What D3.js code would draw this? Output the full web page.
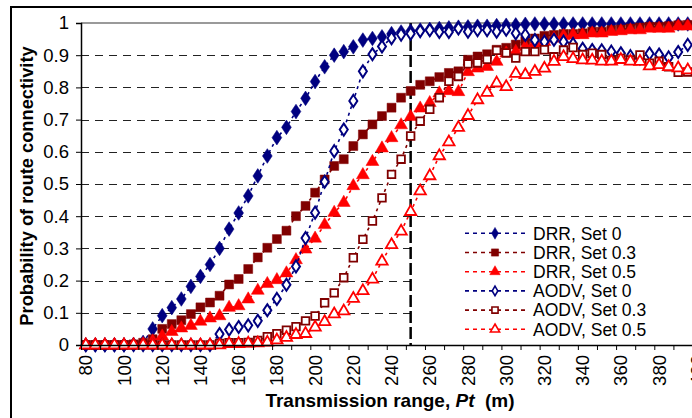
<!DOCTYPE html>
<html><head><meta charset="utf-8">
<script src="https://cdn.jsdelivr.net/npm/d3@7"></script>
<style>
html,body{margin:0;padding:0;background:#fff;}
svg{display:block;font-family:"Liberation Sans",Arial,sans-serif;}
</style></head>
<body><svg id="c" width="692" height="418"></svg>
<script>
// ---- data ----
const ranges = [80,85,90,95,100,105,110,115,120,125,130,135,140,145,150,155,160,165,170,175,180,185,190,195,200,205,210,215,220,225,230,235,240,245,250,255,260,265,270,275,280,285,290,295,300,305,310,315,320,325,330,335,340,345,350,355,360,365,370,375,380,385,390,395,400];
const drrSet0 = [0,0,0,0,0,0.002,0.008,0.05,0.091,0.116,0.143,0.182,0.213,0.25,0.30,0.36,0.41,0.463,0.525,0.587,0.644,0.676,0.725,0.766,0.818,0.864,0.90,0.911,0.926,0.947,0.952,0.957,0.967,0.972,0.975,0.978,0.98,0.983,0.985,0.987,0.988,0.99,0.99,0.992,0.993,0.994,0.996,0.997,0.997,0.997,0.997,0.997,0.997,0.997,0.997,0.997,0.997,0.997,0.997,0.997,0.997,0.997,0.997,0.997,0.997];
const drrSet03 = [0,0,0,0,0,0.002,0.007,0.018,0.05,0.065,0.077,0.096,0.117,0.132,0.153,0.188,0.205,0.236,0.272,0.302,0.329,0.355,0.40,0.432,0.473,0.514,0.556,0.577,0.618,0.654,0.685,0.711,0.737,0.768,0.789,0.808,0.819,0.832,0.845,0.85,0.886,0.896,0.903,0.917,0.923,0.933,0.944,0.952,0.96,0.963,0.966,0.966,0.968,0.973,0.973,0.978,0.98,0.983,0.986,0.988,0.988,0.99,0.993,0.994,0.995];
const drrSet05 = [0,0,0,0,0,0,0.003,0.012,0.027,0.041,0.052,0.06,0.073,0.083,0.09,0.116,0.121,0.142,0.169,0.19,0.202,0.223,0.264,0.297,0.331,0.373,0.411,0.442,0.494,0.528,0.569,0.611,0.643,0.683,0.709,0.735,0.752,0.782,0.789,0.786,0.848,0.859,0.864,0.88,0.906,0.911,0.926,0.937,0.942,0.952,0.96,0.963,0.963,0.968,0.968,0.973,0.975,0.978,0.978,0.983,0.983,0.983,0.99,0.99,0.99];
const aodvSet0 = [0,0,0,0,0,0,0,0,0,0,0,0,0,0,0.034,0.048,0.056,0.061,0.075,0.108,0.143,0.187,0.244,0.332,0.411,0.507,0.602,0.669,0.758,0.85,0.903,0.927,0.953,0.964,0.967,0.975,0.978,0.972,0.972,0.983,0.973,0.978,0.978,0.973,0.979,0.968,0.963,0.947,0.942,0.948,0.942,0.935,0.92,0.916,0.915,0.911,0.906,0.897,0.89,0.905,0.902,0.893,0.91,0.932,0.95];
const aodvSet03 = [0,0,0,0,0,0,0,0,0,0,0,0,0,0,0.005,0.007,0.007,0.008,0.014,0.026,0.035,0.046,0.057,0.075,0.09,0.131,0.162,0.209,0.271,0.328,0.385,0.457,0.53,0.577,0.649,0.695,0.732,0.768,0.819,0.834,0.873,0.876,0.887,0.915,0.907,0.891,0.911,0.911,0.917,0.895,0.916,0.924,0.902,0.906,0.902,0.884,0.89,0.885,0.901,0.875,0.881,0.864,0.847,0.848,0.85];
const aodvSet05 = [0,0,0,0,0,0,0,0,0,0,0,0,0,0,0,0.004,0.004,0.005,0.006,0.008,0.015,0.023,0.032,0.035,0.055,0.072,0.096,0.105,0.144,0.168,0.204,0.26,0.311,0.353,0.414,0.478,0.525,0.587,0.63,0.675,0.712,0.761,0.784,0.813,0.802,0.843,0.839,0.849,0.859,0.88,0.895,0.889,0.885,0.884,0.881,0.881,0.886,0.881,0.88,0.866,0.87,0.864,0.86,0.854,0.855];
const seriesNames = ["DRR, Set 0","DRR, Set 0.3","DRR, Set 0.5","AODV, Set 0","AODV, Set 0.3","AODV, Set 0.5"];
const xTickLabels = [80,100,120,140,160,180,200,220,240,260,280,300,320,340,360,380,400];
const yTickLabels = [0,0.1,0.2,0.3,0.4,0.5,0.6,0.7,0.8,0.9,1];
const markerLine = 250;

// ---- styles ----
const navy="#000080", maroon="#800000", red="#ff0000";
const series = [
  {name:seriesNames[0], values:drrSet0,  color:navy,   shape:"diamond",  fill:true},
  {name:seriesNames[1], values:drrSet03, color:maroon, shape:"square",   fill:true},
  {name:seriesNames[2], values:drrSet05, color:red,    shape:"triangle", fill:true},
  {name:seriesNames[3], values:aodvSet0, color:navy,   shape:"diamond",  fill:false},
  {name:seriesNames[4], values:aodvSet03,color:maroon, shape:"square",   fill:false},
  {name:seriesNames[5], values:aodvSet05,color:red,    shape:"triangle", fill:false}
];

const svg = d3.select("#c");
const L=81, T=23, B=345;
const x = d3.scaleLinear().domain([77.5,402.5]).range([L, L+325*1.911]);
const y = d3.scaleLinear().domain([0,1]).range([B,T]);

// outer chart border
svg.append("path").attr("d",`M11,420 L11,7 L700,7`).attr("fill","none").attr("stroke","#000").attr("stroke-width",2);

// gridlines
svg.append("g").selectAll("line").data(yTickLabels.filter(d=>d>0&&d<1)).join("line")
  .attr("x1",L).attr("x2",700).attr("y1",d=>Math.round(y(d))+0.5).attr("y2",d=>Math.round(y(d))+0.5)
  .attr("stroke","#222").attr("stroke-width",1).attr("stroke-dasharray","8,6");
// top border of plot
svg.append("line").attr("x1",L).attr("x2",700).attr("y1",T).attr("y2",T).attr("stroke","#9a9a9a").attr("stroke-width",2);

// legend background
svg.append("rect").attr("x",413).attr("y",223).attr("width",290).attr("height",120).attr("fill","#fff");

// vertical reference line
svg.append("line").attr("x1",x(markerLine)).attr("x2",x(markerLine)).attr("y1",T).attr("y2",B)
  .attr("stroke","#000").attr("stroke-width",2.5).attr("stroke-dasharray","12,4");

// series
const shapeOf = {diamond:d3.symbolDiamond, square:d3.symbolSquare, triangle:d3.symbolTriangle};
const sizeOf = {true:{diamond:62,square:80,triangle:72}, false:{diamond:42,square:58,triangle:56}};
const line = d3.line().x((d,i)=>x(ranges[i])).y(d=>y(d));
series.forEach(s=>{
  const g = svg.append("g");
  g.append("path").datum(s.values).attr("d",line).attr("fill","none")
    .attr("stroke",s.color).attr("stroke-width",1.6).attr("stroke-dasharray","3,4");
  const sym = d3.symbol().type(shapeOf[s.shape]).size(sizeOf[s.fill][s.shape]);
  g.selectAll("path.m").data(s.values).join("path").attr("class","m")
    .attr("transform",(d,i)=>`translate(${x(ranges[i])},${y(d)})${s.shape==="diamond"?" scale(1.15,1)":""}`)
    .attr("d",sym())
    .attr("fill",s.fill?s.color:"#fff").attr("stroke",s.color).attr("stroke-width",s.fill?0.5:1.8);
});

// axes
const yAxis = svg.append("g").attr("transform",`translate(${L},0)`)
  .call(d3.axisLeft(y).tickValues(yTickLabels).tickSize(5).tickPadding(7)
    .tickFormat(d=> d===0?"0":d===1?"1":d3.format(".1f")(d)));
yAxis.select(".domain").attr("stroke","#000").attr("stroke-width",1.5);
yAxis.selectAll(".tick line").attr("stroke","#000");
yAxis.selectAll("text").attr("font-size",18.5).attr("fill","#000").attr("font-family","Liberation Sans, Arial, sans-serif");

const tickMarks = d3.range(0,33).map(i=>77.5+10*i);
const xAxis = svg.append("g").attr("transform",`translate(0,${B})`)
  .call(d3.axisBottom(x).tickValues(tickMarks).tickSize(5).tickFormat(""));
xAxis.select(".domain").attr("d",`M${L},0.5H700`).attr("stroke","#000").attr("stroke-width",1.5);
xAxis.selectAll(".tick line").attr("stroke","#000");

const xLab = svg.append("g").attr("transform",`translate(0,${B})`)
  .call(d3.axisBottom(x).tickValues(xTickLabels).tickSize(0).tickFormat(d3.format("d")));
xLab.select(".domain").remove();
xLab.selectAll("text").attr("font-size",18.5).attr("fill","#000")
  .attr("font-family","Liberation Sans, Arial, sans-serif")
  .attr("transform","rotate(-90)").attr("text-anchor","end")
  .attr("x",-10).attr("y",0).attr("dy","0.33em");

// axis titles
svg.append("text").attr("transform","translate(33,186) rotate(-90)").attr("text-anchor","middle")
  .attr("font-size",18.3).attr("font-weight","bold").text("Probability of route connectivity");
const xt = svg.append("text").attr("x",390).attr("y",407).attr("text-anchor","middle")
  .attr("font-size",19).attr("font-weight","bold");
xt.append("tspan").text("Transmission range, ");
xt.append("tspan").attr("font-style","italic").text("Pt");
xt.append("tspan").attr("xml:space","preserve").text("  (m)");

// legend
const lg = svg.append("g");
series.forEach((s,i)=>{
  const cy = 233.3 + i*19.2;
  lg.append("line").attr("x1",465).attr("x2",528).attr("y1",cy).attr("y2",cy)
    .attr("stroke",s.color).attr("stroke-width",1.6).attr("stroke-dasharray","4,4");
  const sym = d3.symbol().type(shapeOf[s.shape]).size(sizeOf[s.fill][s.shape]*0.65);
  lg.append("path").attr("transform",`translate(495,${cy})`).attr("d",sym())
    .attr("fill",s.fill?s.color:"#fff").attr("stroke",s.color).attr("stroke-width",s.fill?0.5:1.6);
  lg.append("text").attr("x",533).attr("y",cy).attr("dy","0.36em").attr("font-size",17.5)
    .attr("fill","#000").text(s.name);
});
</script></body></html>
